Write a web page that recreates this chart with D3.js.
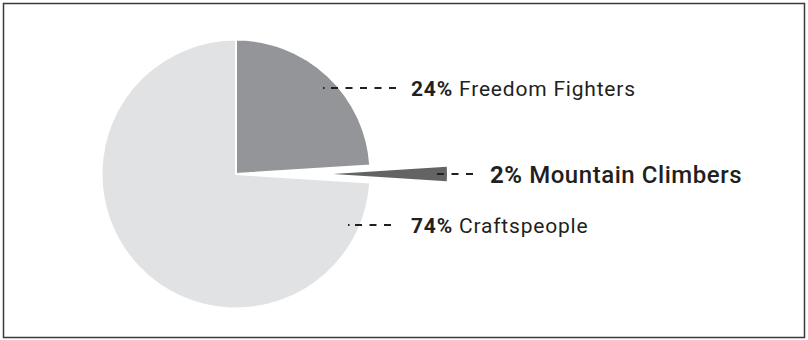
<!DOCTYPE html>
<html>
<head>
<meta charset="utf-8">
<script src="https://cdn.jsdelivr.net/npm/d3@7"></script>
<style>
  body { margin: 0; background: #fff; }
  svg { display: block; }
  text { font-family: Roboto, "Noto Sans", sans-serif; fill: #231f20; }
</style>
</head>
<body>
<script>
// Population shares by group (percent)
const categories = ["Freedom Fighters", "Mountain Climbers", "Craftspeople"];
const shares = [24, 2, 74];
const sliceColors = ["#939598", "#626365", "#e1e2e3"];

const W = 808, H = 340;
const svg = d3.select("body").append("svg")
  .attr("width", W).attr("height", H);

// outer frame
svg.append("rect")
  .attr("x", 3.5).attr("y", 3.5)
  .attr("width", 801).attr("height", 334)
  .attr("fill", "none").attr("stroke", "#3a3a3a").attr("stroke-width", 1.5);

const cx = 236, cy = 174, R = 134.5;
const explodeIndex = 1;      // the small slice is pulled out to the right
const explodeOffset = 97;
const explodeRadius = 114;

const data = categories.map((name, i) => ({ name, value: shares[i], color: sliceColors[i] }));
const pie = d3.pie().sort(null).value(d => d.value);
const arcs = pie(data);

const arcMain = d3.arc().innerRadius(0).outerRadius(R);
const arcExploded = d3.arc().innerRadius(0).outerRadius(explodeRadius);

const g = svg.append("g").attr("transform", `translate(${cx},${cy})`);

g.selectAll("path.slice")
  .data(arcs)
  .join("path")
  .attr("class", "slice")
  .attr("fill", d => d.data.color)
  .attr("stroke", "#fff")
  .attr("stroke-width", d => d.index === explodeIndex ? 0 : 2)
  .attr("stroke-linejoin", "miter")
  .attr("transform", d => {
    if (d.index !== explodeIndex) return null;
    const mid = (d.startAngle + d.endAngle) / 2;
    return `translate(${Math.sin(mid) * explodeOffset},${-Math.cos(mid) * explodeOffset})`;
  })
  .attr("d", d => d.index === explodeIndex ? arcExploded(d) : arcMain(d));

// label layout: row y, optional leading dot, dashed leader span, text start, type size
const labelY = [88, 174, 225];
const dotX = [323, null, 348];
const dashFrom = [331, 437, 355];
const dashTo = [396, 473, 391];
const textX = [411, 490, 411];
const fontSizes = [21, 24, 21];
const tracking = [0.8, 0.55, 0.8];

const labels = svg.append("g");
data.forEach((d, i) => {
  const y = labelY[i];
  if (dotX[i] !== null) {
    labels.append("line")
      .attr("x1", dotX[i]).attr("x2", dotX[i] + 1.5)
      .attr("y1", y).attr("y2", y)
      .attr("stroke", "#231f20").attr("stroke-width", 2);
  }
  labels.append("line")
    .attr("x1", dashFrom[i]).attr("x2", dashTo[i])
    .attr("y1", y).attr("y2", y)
    .attr("stroke", "#231f20").attr("stroke-width", 2.2)
    .attr("stroke-dasharray", "7,7.5");

  const t = labels.append("text")
    .attr("x", textX[i]).attr("y", y)
    .attr("dy", "0.36em")
    .attr("font-size", fontSizes[i])
    .attr("letter-spacing", tracking[i]);
  const strong = i === explodeIndex;
  t.append("tspan").attr("font-weight", 700).text(`${d.value}%`);
  t.append("tspan")
    .attr("font-weight", strong ? 500 : 400)
    .text(` ${d.name}`);
});
</script>
</body>
</html>
